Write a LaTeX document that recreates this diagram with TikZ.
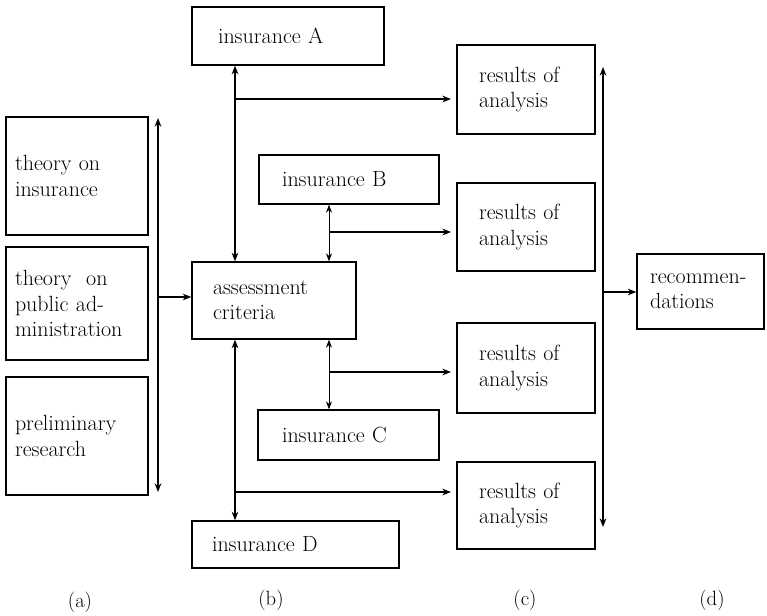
\documentclass[tikz,border=0pt]{standalone}
\usetikzlibrary{arrows.meta}
\begin{document}
\begin{tikzpicture}[x=0.75pt,y=-0.75pt,
  font=\fontsize{16.5}{19}\selectfont,
  box/.style={draw, line width=1pt, rectangle, align=left, inner ysep=0pt},
  link/.style={line width=1pt, -{Stealth[length=6.5pt,width=5pt]}},
  dlink/.style={line width=1pt, {Stealth[length=6.5pt,width=5pt]}-{Stealth[length=6.5pt,width=5pt]}},
  thinlink/.style={line width=0.6pt, {Stealth[length=6pt,width=4.5pt]}-{Stealth[length=6pt,width=4.5pt]}},
  caption/.style={font=\fontsize{15.5}{18}\selectfont}]
\useasboundingbox (0,0) rectangle (767,615);

% column (a): sources
\node[box, minimum width=106.5pt, minimum height=88.5pt, inner xsep=6.75pt, text width=93pt]
  (t1) at (77,176) {theory on\\insurance};
\node[box, minimum width=106.5pt, minimum height=84.75pt, inner xsep=6.75pt, text width=93pt]
  (t2) at (77,303.5) {theory\ \ on\\public ad-\\ministration};
\node[box, minimum width=106.5pt, minimum height=88.5pt, inner xsep=6.75pt, text width=93pt]
  (t3) at (77,436) {preliminary\\research};

% column (b): criteria and insurances
\node[box, minimum width=144pt, minimum height=43.5pt, inner xsep=19.5pt, text width=105pt]
  (A) at (288,36) {insurance A};
\node[box, minimum width=135pt, minimum height=36.75pt, inner xsep=17.25pt, text width=100.5pt]
  (B) at (349,179.5) {insurance B};
\node[box, minimum width=123pt, minimum height=57.75pt, inner xsep=15.75pt, text width=91.5pt]
  (crit) at (274,300.5) {assessment\\criteria};
\node[box, minimum width=135.75pt, minimum height=37.5pt, inner xsep=18pt, text width=99.75pt]
  (C) at (348.5,435) {insurance C};
\node[box, minimum width=155.25pt, minimum height=35.25pt, inner xsep=15pt, text width=125.25pt]
  (D) at (295.5,544.5) {insurance D};

% column (c): results
\node[box, minimum width=103.5pt, minimum height=66.75pt, inner xsep=16.5pt, text width=70.5pt]
  (R1) at (526,89.5) {results of\\analysis};
\node[box, minimum width=103.5pt, minimum height=66pt, inner xsep=16.5pt, text width=70.5pt]
  (R2) at (526,227) {results of\\analysis};
\node[box, minimum width=103.5pt, minimum height=67.5pt, inner xsep=16.5pt, text width=70.5pt]
  (R3) at (526,368) {results of\\analysis};
\node[box, minimum width=103.5pt, minimum height=65.25pt, inner xsep=16.5pt, text width=70.5pt]
  (R4) at (526,505.5) {results of\\analysis};

% column (d): recommendations
\node[box, minimum width=95.25pt, minimum height=56.25pt, inner xsep=9.75pt, text width=75.75pt]
  (rec) at (700.5,291.5) {recommen-\\dations};

% bus lines and branch points
\coordinate (lt) at (158,118);
\coordinate (lb) at (158,492);
\coordinate (lj) at (158,297);
\coordinate (rt) at (603,67);
\coordinate (rb) at (603,527);
\coordinate (rj) at (603,292);
\coordinate (xa) at (235,0);
\coordinate (xb) at (329,0);
\coordinate (ja) at (235,99);
\coordinate (jb) at (329,232);
\coordinate (jc) at (329,372);
\coordinate (jd) at (235,492);

% connectors
\draw[dlink] (lt) -- (lb);
\draw[link] (lj) -- (lj -| crit.west);

\draw[dlink] (A.south -| xa) -- (crit.north -| xa);
\draw[dlink] (crit.south -| xa) -- (D.north -| xa);
\draw[thinlink] (B.south -| xb) -- (crit.north -| xb);
\draw[thinlink] (crit.south -| xb) -- (C.north -| xb);

\draw[link, shorten >=4pt] (ja) -- (ja -| R1.west);
\draw[link, shorten >=4pt] (jb) -- (jb -| R2.west);
\draw[link, shorten >=4pt] (jc) -- (jc -| R3.west);
\draw[link, shorten >=4pt] (jd) -- (jd -| R4.west);

\draw[dlink] (rt) -- (rb);
\draw[link] (rj) -- (rj -| rec.west);

% column captions
\node[caption] (ca) at (80,602) {(a)};
\node[caption] (cb) at (271,600) {(b)};
\node[caption] (cc) at (525,600) {(c)};
\node[caption] (cd) at (712,600) {(d)};
\end{tikzpicture}
\end{document}
